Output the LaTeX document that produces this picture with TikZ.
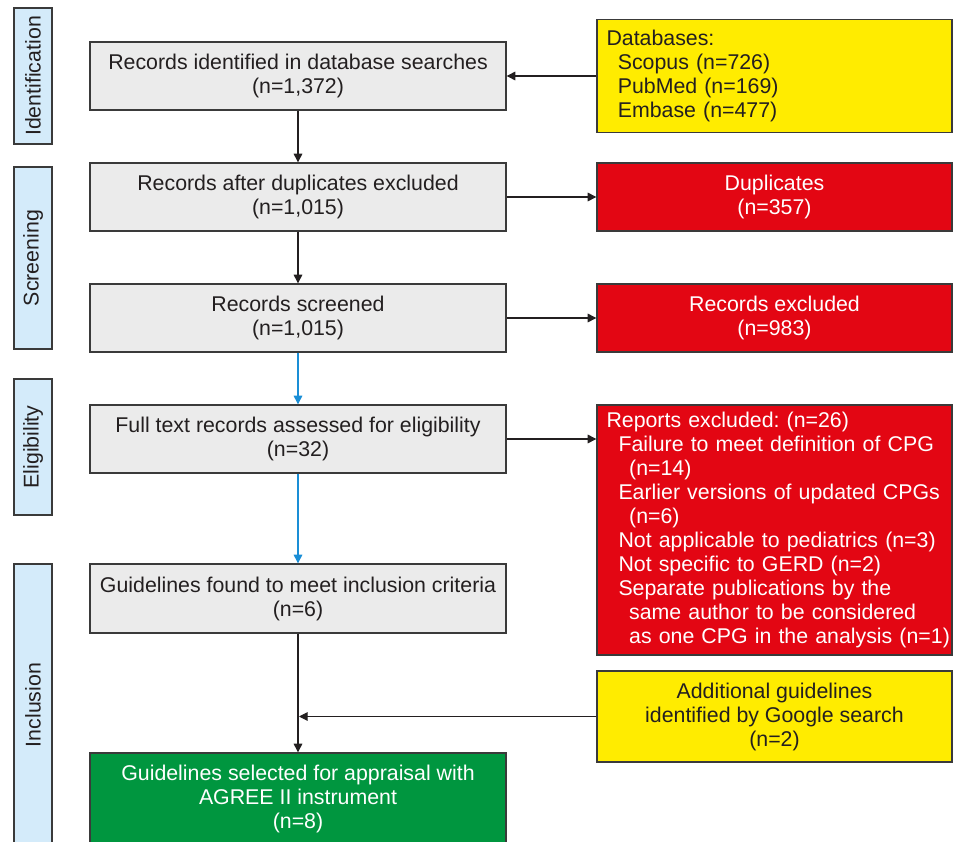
\documentclass[tikz,border=0pt]{standalone}
\usepackage{fontspec}
\setmainfont{Liberation Sans}
\usetikzlibrary{arrows.meta}
\frenchspacing
\definecolor{boxgray}{HTML}{EBEBEB}
\definecolor{sideblue}{HTML}{D4EBFA}
\definecolor{ylw}{HTML}{FFEC00}
\definecolor{rd}{HTML}{E30613}
\definecolor{grn}{HTML}{00963F}
\definecolor{arrowblue}{HTML}{1A8ED6}
\definecolor{edge}{HTML}{3A3A3A}
\definecolor{ink}{HTML}{231F20}
\begin{document}
\begin{tikzpicture}[x=0.75pt,y=-0.75pt,
  font=\fontsize{16pt}{18pt}\selectfont\frenchspacing,
  base/.style={draw=edge,line width=1pt,text=ink,inner sep=0pt,align=center},
  mainbox/.style={base,fill=boxgray,minimum width=312pt,minimum height=51pt},
  sidebox/.style={base,fill=sideblue,rotate=90,minimum height=28.5pt},
  rbox/.style={base,minimum width=266.25pt},
  ybox/.style={rbox,fill=ylw},
  rdbox/.style={rbox,fill=rd,text=white},
  leftlist/.style={align=left,text width=252pt,inner xsep=7pt},
  arr/.style={-{Triangle[length=6.5pt,width=6.5pt]},line width=0.8pt,draw=ink,fill=ink},
  barr/.style={-{Triangle[length=6.5pt,width=6.5pt]},line width=0.8pt,draw=arrowblue,fill=arrowblue}
]
\useasboundingbox (0,0) rectangle (953,842);

% phase labels
\node[sidebox,minimum width=102pt] (s1) at (33,76) {Identification};
\node[sidebox,minimum width=136.5pt] (s2) at (33,258) {Screening};
\node[sidebox,minimum width=102pt] (s3) at (33,447) {Eligibility};
\node[sidebox,minimum width=211.5pt] (s4) at (33,705) {Inclusion};

% main column
\node[mainbox] (b1) at (298,76) {Records identified in database searches\\(n=1,372)};
\node[mainbox] (b2) at (298,197) {Records after duplicates excluded\\(n=1,015)};
\node[mainbox] (b3) at (298,318) {Records screened\\(n=1,015)};
\node[mainbox] (b4) at (298,439) {Full text records assessed for eligibility\\(n=32)};
\node[mainbox,minimum height=51.75pt] (b5) at (298,598.5) {Guidelines found to meet inclusion criteria\\(n=6)};
\node[mainbox,fill=grn,text=white,minimum height=69pt] (b6) at (298,799) {Guidelines selected for appraisal with\\AGREE II instrument\\(n=8)};

% right column
\node[ybox,leftlist,minimum height=84.75pt] (db) at (774.5,76) {\mbox{Databases:}\\\mbox{\hspace*{8.5pt}Scopus (n=726)}\\\mbox{\hspace*{8.5pt}PubMed (n=169)}\\\mbox{\hspace*{8.5pt}Embase (n=477)}};
\node[rdbox,minimum height=51pt] (dup) at (774.5,197) {Duplicates\\(n=357)};
\node[rdbox,minimum height=51pt] (rex) at (774.5,318) {Records excluded\\(n=983)};
\node[rdbox,leftlist,minimum height=187.5pt] (rep) at (774.5,530) {\mbox{Reports excluded: (n=26)}\\
\mbox{\hspace*{9pt}Failure to meet definition of CPG}\\
\mbox{\hspace*{17pt}(n=14)}\\
\mbox{\hspace*{9pt}Earlier versions of updated CPGs}\\
\mbox{\hspace*{17pt}(n=6)}\\
\mbox{\hspace*{9pt}Not applicable to pediatrics (n=3)}\\
\mbox{\hspace*{9pt}Not specific to GERD (n=2)}\\
\mbox{\hspace*{9pt}Separate publications by the}\\
\mbox{\hspace*{17pt}same author to be considered}\\
\mbox{\hspace*{17pt}as one CPG in the analysis (n=1)}};
\node[ybox,minimum height=68.25pt] (add) at (774.5,716.5) {Additional guidelines\\identified by Google search\\(n=2)};

\coordinate (join) at (299,716.5);

% connectors
\draw[arr] (db.west) -- (db.west -| b1.east);
\draw[arr] (b1.south) -- (b2.north);
\draw[arr] (b2.south) -- (b3.north);
\draw[barr] (b3.south) -- (b4.north);
\draw[barr] (b4.south) -- (b5.north);
\draw[arr] (b5.south) -- (b6.north);
\draw[arr] (b2.east) -- (b2.east -| dup.west);
\draw[arr] (b3.east) -- (b3.east -| rex.west);
\draw[arr] (b4.east) -- (b4.east -| rep.west);
\draw[arr] (add.west) -- (join);
\end{tikzpicture}
\end{document}
